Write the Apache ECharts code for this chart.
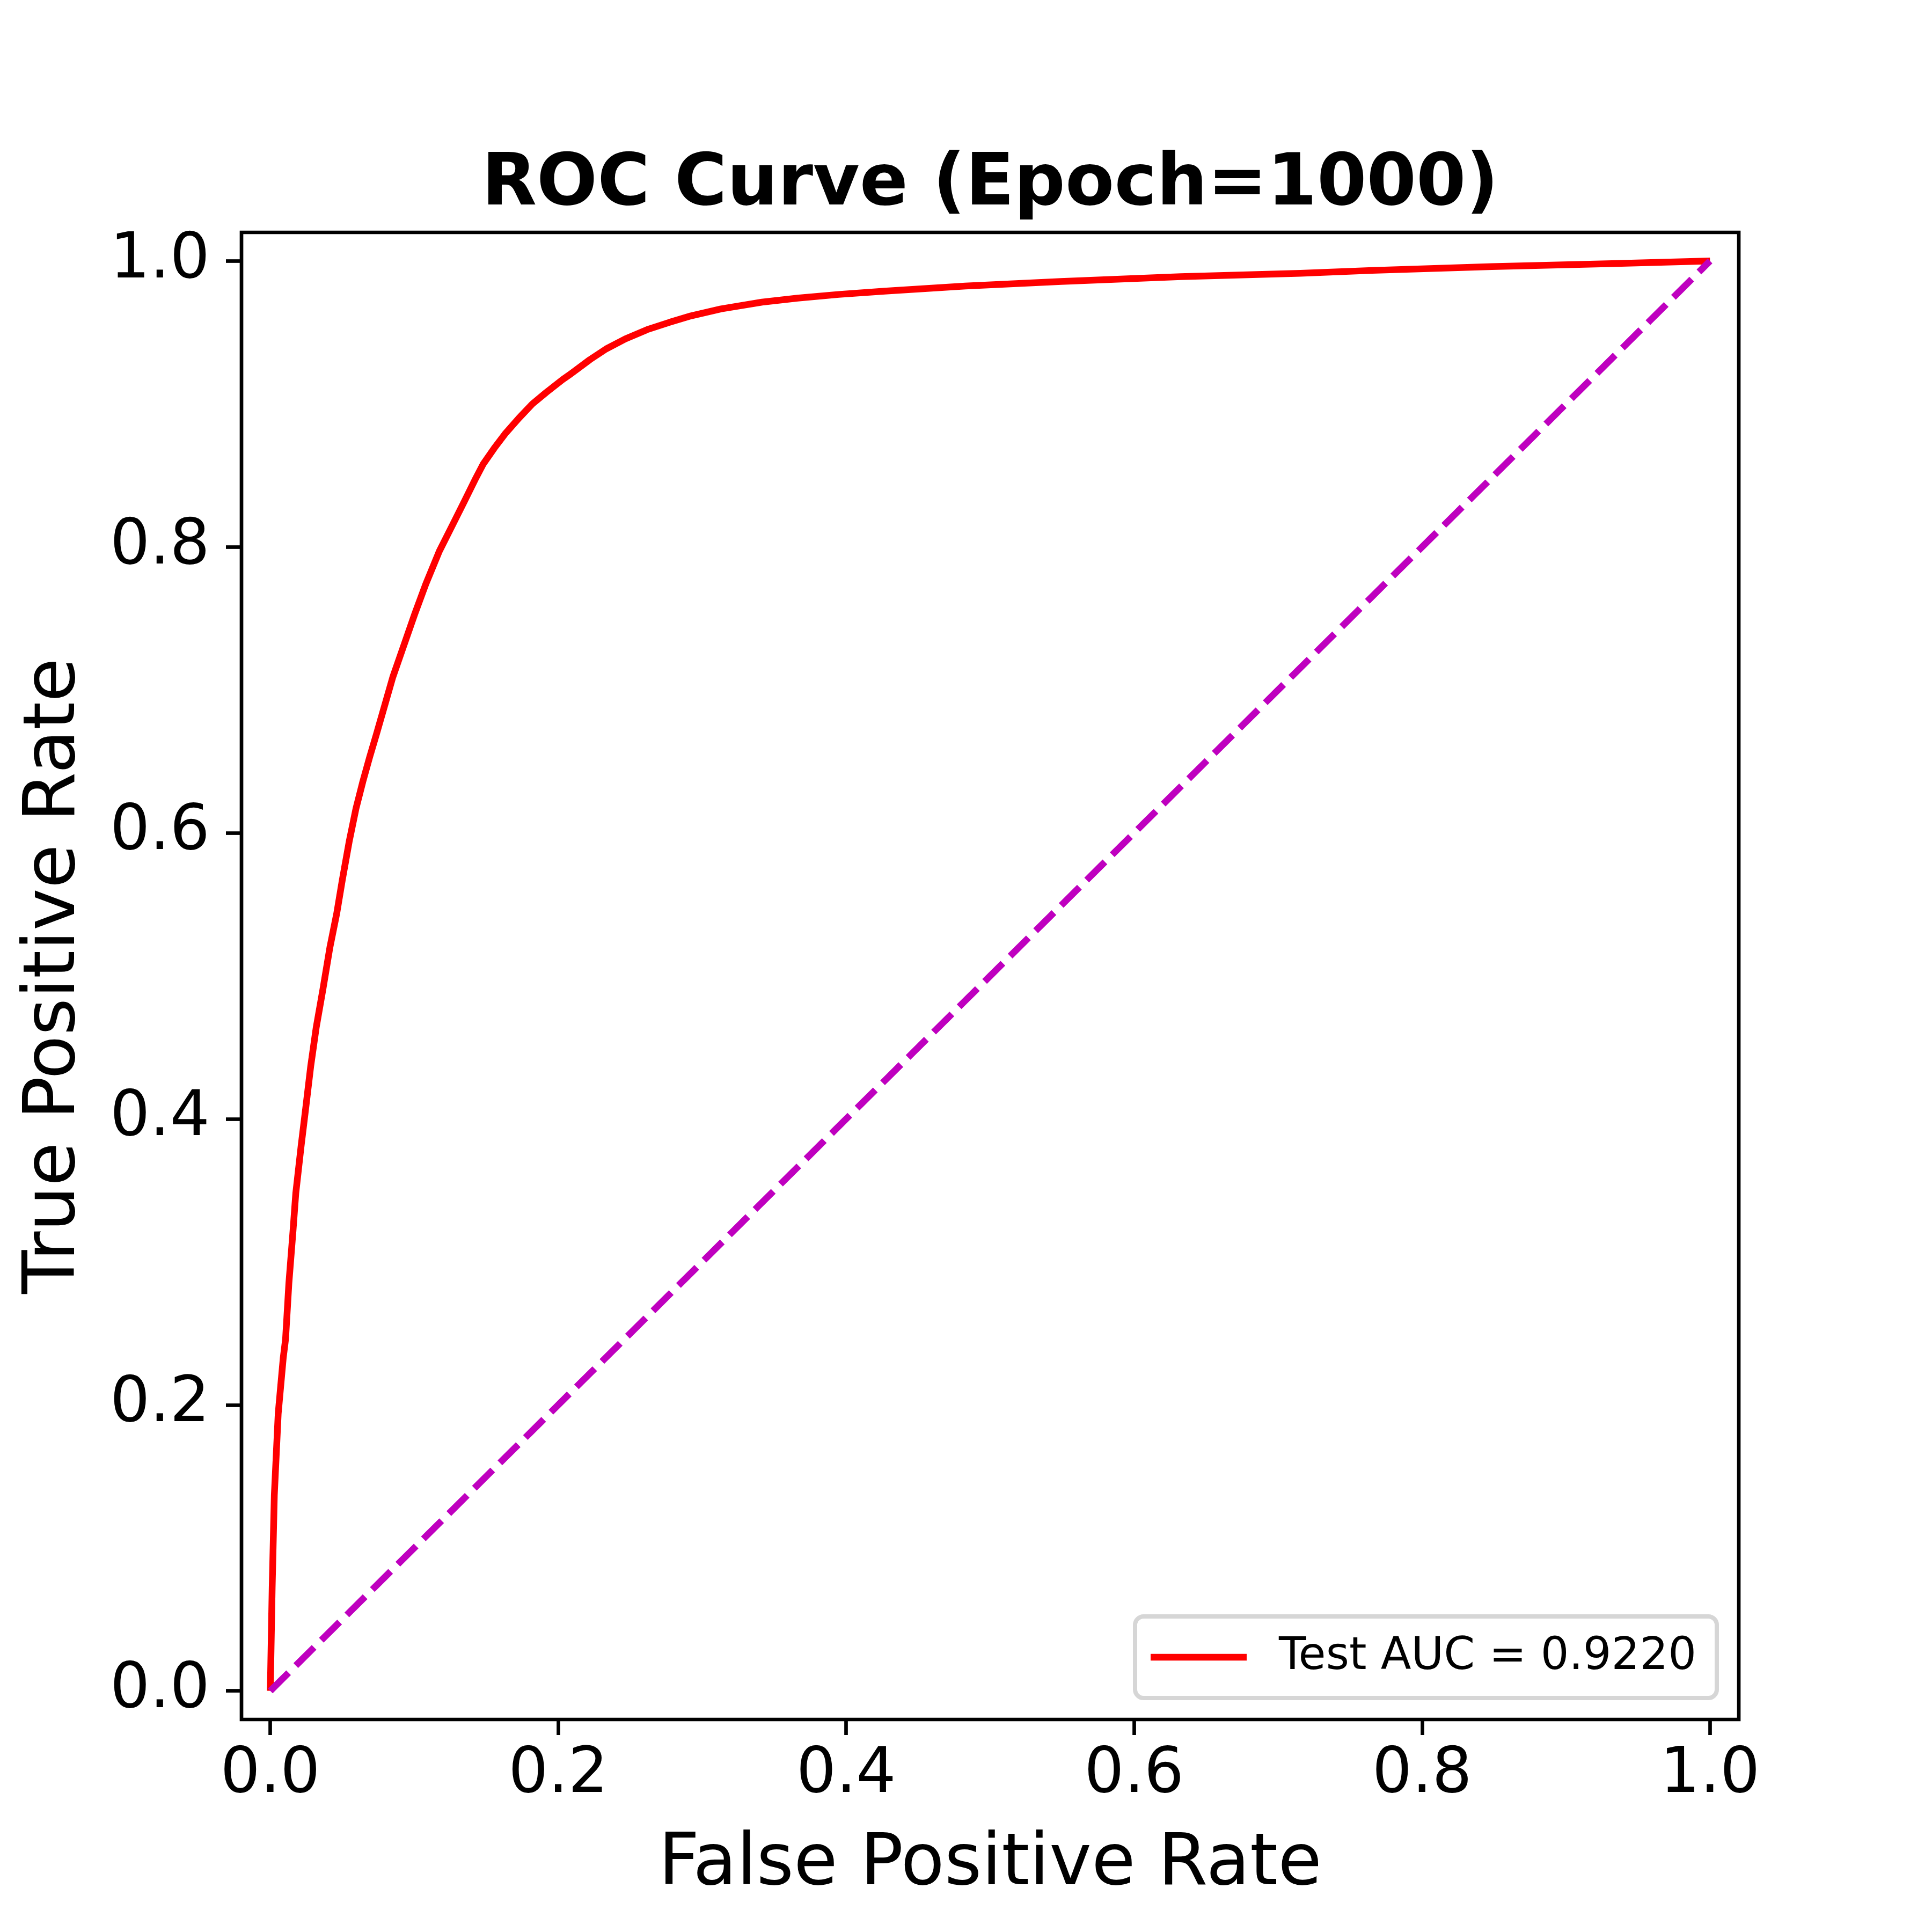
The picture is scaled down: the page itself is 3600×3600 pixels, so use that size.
<!DOCTYPE html>
<html>
<head>
<meta charset="utf-8">
<script src="https://cdn.jsdelivr.net/npm/echarts@6/dist/echarts.min.js"></script>
<style>
  html, body { margin: 0; padding: 0; background: #fff; }
  #chart { width: 3600px; height: 3600px; }
</style>
</head>
<body>
<div id="chart"></div>
<script>
// ---- data ----
const fpr = [0, 0.0013, 0.0028, 0.0055, 0.009, 0.0106, 0.0129, 0.0158, 0.0177, 0.0214,
  0.0249, 0.0281, 0.0319, 0.0366, 0.0414, 0.0462, 0.050, 0.0548, 0.0595, 0.0643,
  0.069, 0.0737, 0.0794, 0.0851, 0.0927, 0.1003, 0.108, 0.1174, 0.1269, 0.1346,
  0.1421, 0.1479, 0.1555, 0.163, 0.1726, 0.182, 0.1916, 0.203, 0.2086, 0.222,
  0.2333, 0.2466, 0.2618, 0.277, 0.2922, 0.313, 0.3415, 0.3663, 0.3948, 0.4268,
  0.4827, 0.5492, 0.6323, 0.7155, 0.7654, 0.8485, 0.9317, 1.0];
const tpr = [0, 0.072, 0.137, 0.194, 0.233, 0.246, 0.285, 0.322, 0.348, 0.381,
  0.41, 0.437, 0.464, 0.491, 0.52, 0.544, 0.567, 0.594, 0.617, 0.636,
  0.653, 0.669, 0.689, 0.709, 0.731, 0.753, 0.774, 0.797, 0.816, 0.8315,
  0.8468, 0.858, 0.869, 0.879, 0.890, 0.900, 0.908, 0.917, 0.921, 0.931,
  0.9385, 0.9455, 0.952, 0.957, 0.9616, 0.9665, 0.9712, 0.974, 0.9766, 0.9789,
  0.9825, 0.9857, 0.989, 0.9914, 0.9934, 0.9961, 0.9981, 1.0];
const chanceX = [0, 1];
const chanceY = [0, 1];
const tickValues = [0, 0.2, 0.4, 0.6, 0.8, 1.0];
const seriesName = 'Test AUC = 0.9220';
const titleText = 'ROC Curve (Epoch=1000)';
const xName = 'False Positive Rate';
const yName = 'True Positive Rate';

const rocData = fpr.map((x, i) => [x, tpr[i]]);
const chanceData = chanceX.map((x, i) => [x, chanceY[i]]);

const FONT = 'DejaVu Sans';
const chart = echarts.init(document.getElementById('chart'), null, { renderer: 'canvas', devicePixelRatio: 1 });

function axisCommon(name) {
  return {
    type: 'value',
    min: -0.02,
    max: 1.02,
    name: name,
    nameLocation: 'middle',
    nameTextStyle: { fontFamily: FONT, fontSize: 133, lineHeight: 133, color: '#000' },
    axisLine: { show: false, onZero: false },
    splitLine: { show: false },
    axisTick: {
      show: true, inside: false, length: 29,
      customValues: tickValues,
      lineStyle: { color: '#000', width: 6.7 }
    },
    axisLabel: {
      show: true,
      customValues: tickValues,
      fontFamily: FONT, fontSize: 117, lineHeight: 117, color: '#000',
      formatter: v => v.toFixed(1)
    }
  };
}

const xAxis = axisCommon(xName);
xAxis.nameGap = 206;
xAxis.axisLabel.margin = 46;

const yAxis = axisCommon(yName);
yAxis.nameGap = 280;
yAxis.nameRotate = 90;
yAxis.axisLabel.margin = 59;

chart.setOption({
  animation: false,
  backgroundColor: '#fff',
  title: {
    text: titleText,
    left: 1845,
    top: 280,
    padding: 0,
    textAlign: 'center',
    textStyle: { fontFamily: FONT, fontSize: 133, lineHeight: 133, fontWeight: 'bold', color: '#000' }
  },
  grid: {
    left: 450, top: 433, width: 2790, height: 2771,
    show: true, borderColor: '#000', borderWidth: 6.7, backgroundColor: 'transparent',
    containLabel: false
  },
  legend: {
    data: [seriesName],
    left: 2115,
    top: 3012,
    orient: 'vertical',
    icon: 'rect',
    itemWidth: 179,
    itemHeight: 12.5,
    padding: [28, 38, 28, 29],
    backgroundColor: 'rgba(255,255,255,0.8)',
    borderColor: '#d6d6d6',
    borderWidth: 8,
    borderRadius: 16,
    selectedMode: false,
    textStyle: { fontFamily: FONT, fontSize: 83, lineHeight: 96, color: '#000', padding: [0, 0, 0, 55] }
  },
  xAxis: xAxis,
  yAxis: yAxis,
  series: [
    {
      name: seriesName,
      type: 'line',
      data: rocData,
      showSymbol: false,
      symbol: 'none',
      smooth: false,
      lineStyle: { color: '#ff0000', width: 12.5, cap: 'butt', join: 'round' },
      itemStyle: { color: '#ff0000' },
      z: 2
    },
    {
      name: 'chance',
      type: 'line',
      data: chanceData,
      showSymbol: false,
      symbol: 'none',
      lineStyle: { color: '#bf00bf', width: 12.5, type: [48, 19], cap: 'butt' },
      itemStyle: { color: '#bf00bf' },
      z: 3
    }
  ]
});
</script>
</body>
</html>
